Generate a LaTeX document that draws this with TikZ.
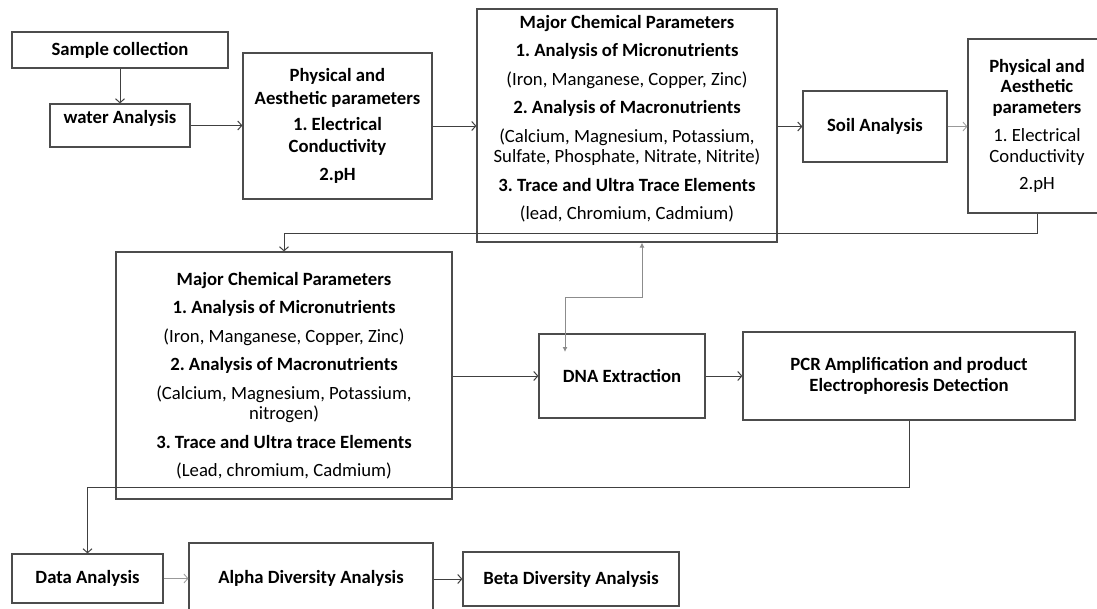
\documentclass[tikz,border=0pt]{standalone}
\usepackage{fontspec}
\setmainfont{Carlito}
\usetikzlibrary{arrows.meta}
\frenchspacing
\begin{document}
\begin{tikzpicture}[x=1pt,y=-1pt]
\tikzset{box/.style = {draw=black!70, line width=1.2pt, inner sep=0pt, align=center, font=\fontsize{18.7}{20.5}\selectfont},
	boldbox/.style = {box, font=\fontsize{18.7}{20.5}\selectfont\bfseries},
	flow/.style = {draw=black!75, line width=1pt, -{Straight Barb[length=4pt,width=9pt]}},
	faint/.style = {flow, draw=black!40, line width=0.8pt},
	both/.style = {draw=black!45, line width=0.9pt, {Latex[length=5pt,width=5pt]}-{Latex[length=5pt,width=5pt]}}}
	\clip (0,0) rectangle (1097,608);

		\node[boldbox, minimum width=216pt, minimum height=36pt] (sample) at (120,50) {Sample collection};
		\node[boldbox, minimum width=140pt, minimum height=43pt] (water) at (120,125.5) {water Analysis\\[-3pt]\mbox{}};
		\node[boldbox, minimum width=189pt, minimum height=146pt] (phys1) at (337.5,126) {Physical and\\[2pt]Aesthetic parameters\\[6pt]1. Electrical\\[1pt]Conductivity\\[8pt]2.pH};
		\node[box, minimum width=300pt, minimum height=233pt] (chem1) at (627,125.5) {\textbf{Major Chemical Parameters}\\[8pt]\textbf{1. Analysis of Micronutrients}\\[8pt](Iron, Manganese, Copper, Zinc)\\[8pt]\textbf{2. Analysis of Macronutrients}\\[8pt](Calcium, Magnesium, Potassium,\\Sulfate, Phosphate, Nitrate, Nitrite)\\[8pt]\textbf{3. Trace and Ultra Trace Elements}\\[8pt](lead, Chromium, Cadmium)\\[-4pt]\mbox{}};
		\node[boldbox, minimum width=144pt, minimum height=71pt] (soil) at (875,126.5) {Soil Analysis};
		\node[box, minimum width=138pt, minimum height=174pt] (phys2) at (1037,126) {\textbf{Physical and}\\\textbf{Aesthetic}\\\textbf{parameters}\\[8pt]1. Electrical\\Conductivity\\[7pt]2.pH};
		\node[box, minimum width=336pt, minimum height=247pt] (chem2) at (284,375.5) {\textbf{Major Chemical Parameters}\\[8pt]\textbf{1. Analysis of Micronutrients}\\[8pt](Iron, Manganese, Copper, Zinc)\\[8pt]\textbf{2. Analysis of Macronutrients}\\[8pt](Calcium, Magnesium, Potassium,\\nitrogen)\\[8pt]\textbf{3. Trace and Ultra trace Elements}\\[8pt](Lead, chromium, Cadmium)};
		\node[boldbox, minimum width=166pt, minimum height=84pt] (dna) at (622,376) {DNA Extraction};
		\node[boldbox, minimum width=332pt, minimum height=88pt] (pcr) at (909,376) {PCR Amplification and product\\Electrophoresis Detection};
		\node[boldbox, minimum width=151pt, minimum height=49pt] (data) at (87.5,578.5) {Data Analysis};
		\node[boldbox, minimum width=244pt, minimum height=70pt] (alpha) at (311,578) {Alpha Diversity Analysis};
		\node[boldbox, minimum width=216pt, minimum height=54pt] (beta) at (571,579) {Beta Diversity Analysis};
		\coordinate (dnain) at (565,352);
		\coordinate (dnaup) at (642,297);

		\draw[flow] (sample) -- (water);
		\draw[flow] (water.east) -- (water.east -| phys1.west);
		\draw[flow] (phys1) -- (chem1.west |- phys1);
		\draw[flow] (chem1.east |- soil) -- (soil);
		\draw[faint] (soil) -- (phys2.west |- soil);
		\draw[flow] (phys2.south) -- ++(0,20) -| (chem2.north);
		\draw[flow] (chem2.east |- dna) -- (dna);
		\draw[flow] (dna) -- (pcr.west |- dna);
		\draw[flow] (pcr.south) -- ++(0,67) -| (data.north);
		\draw[faint] (data) -- (alpha.west |- data);
		\draw[flow] (alpha.east |- beta) -- (beta);
		\draw[both] (dnain) |- (dnaup) -- (dnaup |- chem1.south);
	\end{tikzpicture}
\end{document}
